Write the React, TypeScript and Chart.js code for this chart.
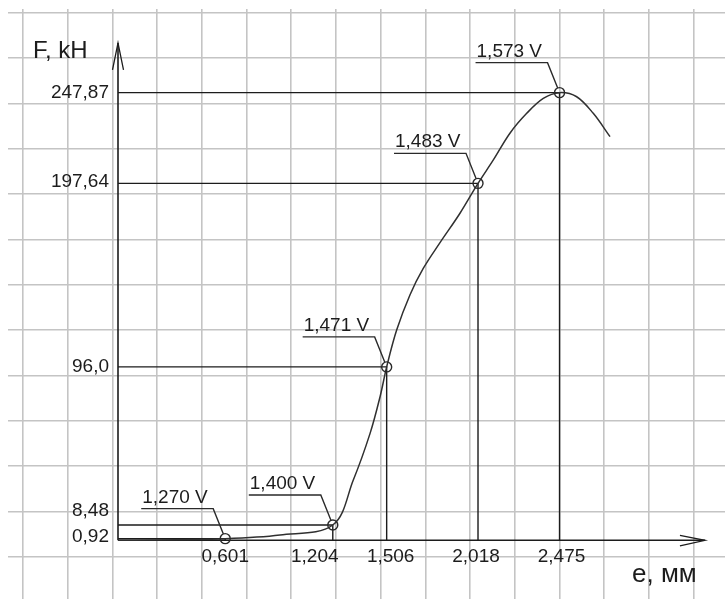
import React, { useEffect, useRef } from 'react';
import { Chart, registerables } from 'chart.js';

Chart.register(...registerables);

// ---- key measured points ----
const strainMm = [0.601, 1.204, 1.506, 2.018, 2.475];
const forceKn = [0.92, 8.48, 96.0, 197.64, 247.87];
const voltageV = [1.27, 1.4, 1.471, 1.483, 1.573];

// ---- tick labels ----
const xTickLabels = ['0,601', '1,204', '1,506', '2,018', '2,475'];
const yTickLabels = ['0,92', '8,48', '96,0', '197,64', '247,87'];

// ---- traced curve F(e) ----
const curveE = [0, 0.601, 0.908, 1.204, 1.319, 1.413, 1.469, 1.506, 1.562, 1.637, 1.711, 1.805, 1.917, 2.018, 2.104, 2.197, 2.291, 2.384, 2.475, 2.571, 2.664, 2.758];
const curveF = [0, 0.92, 2.9, 8.48, 33.4, 59.2, 79.5, 96.0, 116.4, 136.0, 150.5, 164.8, 181.1, 197.64, 210.6, 225.4, 236.4, 244.7, 247.87, 245.6, 236.4, 223.5];

// ---- axis extents (arrow tips) ----
const AXIS_E_END = 3.29;
const AXIS_F_END = 275.4;

// ---- view window ----
const E_MIN = -0.6166;
const E_MAX = 3.4025;
const F_MIN = -32.5;
const F_MAX = 294.18;

// ---- paper grid (background squares) ----
const GRID_E_START = -0.5325;
const GRID_E_STEP = 0.2506;
const GRID_E_COUNT = 16;
const GRID_F_START = 291.97;
const GRID_F_STEP = 25.083;
const GRID_F_COUNT = 13;
const gridE: number[] = [];
for (let k = 0; k < GRID_E_COUNT; k++) gridE.push(GRID_E_START + GRID_E_STEP * k);
const gridF: number[] = [];
for (let k = 0; k < GRID_F_COUNT; k++) gridF.push(GRID_F_START - GRID_F_STEP * k);

// ---- label styling nudges (px) ----
const xLabelNudge = [0, -18, 4, -2, 2];
const yLabelNudge = [3.5, -9, 5, 4, 5];

const INK = '#1c1c1c';
const FONT = '"Liberation Sans", Arial, sans-serif';

const fmt = (v: number) => v.toFixed(3).replace('.', ',') + ' V';

const decor = {
  id: 'decor',
  beforeDatasetsDraw(chart: any) {
    const sx = chart.scales.x;
    const sy = chart.scales.y;
    const ctx = chart.ctx as CanvasRenderingContext2D;
    const x0 = sx.getPixelForValue(0);
    const y0 = sy.getPixelForValue(0);
    const xt = sx.getPixelForValue(AXIS_E_END);
    const yt = sy.getPixelForValue(AXIS_F_END);
    ctx.save();
    ctx.strokeStyle = INK;
    ctx.lineWidth = 1.6;
    ctx.beginPath();
    ctx.moveTo(x0, y0);
    ctx.lineTo(xt, y0);
    ctx.moveTo(x0, y0);
    ctx.lineTo(x0, yt);
    ctx.stroke();
    ctx.lineWidth = 1.3;
    ctx.beginPath();
    ctx.moveTo(xt - 25, y0 - 5);
    ctx.lineTo(xt, y0);
    ctx.lineTo(xt - 25, y0 + 5.5);
    ctx.moveTo(x0 - 5.5, yt + 27);
    ctx.lineTo(x0, yt);
    ctx.lineTo(x0 + 5.5, yt + 27);
    ctx.stroke();
    ctx.restore();
  },
  afterDatasetsDraw(chart: any) {
    const sx = chart.scales.x;
    const sy = chart.scales.y;
    const ctx = chart.ctx as CanvasRenderingContext2D;
    const x0 = sx.getPixelForValue(0);
    const y0 = sy.getPixelForValue(0);
    ctx.save();
    ctx.fillStyle = INK;
    ctx.font = `19px ${FONT}`;
    // x tick labels
    ctx.textAlign = 'center';
    ctx.textBaseline = 'alphabetic';
    strainMm.forEach((e, i) => {
      ctx.fillText(xTickLabels[i], sx.getPixelForValue(e) + xLabelNudge[i], y0 + 22);
    });
    // y tick labels
    ctx.textAlign = 'right';
    forceKn.forEach((f, i) => {
      ctx.fillText(yTickLabels[i], x0 - 9, sy.getPixelForValue(f) + yLabelNudge[i]);
    });
    // callouts
    ctx.textAlign = 'left';
    ctx.strokeStyle = '#2a2a2a';
    ctx.lineWidth = 1.4;
    strainMm.forEach((e, i) => {
      const px = sx.getPixelForValue(e);
      const py = sy.getPixelForValue(forceKn[i]);
      const ux = px - 12;
      const uy = py - 30;
      const dx = px - ux;
      const dy = py - uy;
      const len = Math.hypot(dx, dy);
      const ex = px - (dx / len) * 5;
      const ey = py - (dy / len) * 5;
      ctx.beginPath();
      ctx.moveTo(ux - 72, uy);
      ctx.lineTo(ux, uy);
      ctx.lineTo(ex, ey);
      ctx.stroke();
      ctx.fillText(fmt(voltageV[i]), ux - 71, uy - 6);
    });
    // axis titles
    ctx.font = `24px ${FONT}`;
    ctx.fillText('F, kH', x0 - 85, 58);
    ctx.font = `26px ${FONT}`;
    ctx.fillText('e, мм', 632, 582);
    ctx.restore();
  },
};

export default function App() {
  const ref = useRef<HTMLCanvasElement>(null);
  useEffect(() => {
    const canvas = ref.current!;
    const guides = strainMm.map((e, i) => ({
      type: 'line' as const,
      data: [
        { x: 0, y: forceKn[i] },
        { x: e, y: forceKn[i] },
        { x: e, y: 0 },
      ],
      borderColor: INK,
      borderWidth: 1.4,
      pointRadius: 0,
      tension: 0,
      fill: false,
    }));
    const chart = new Chart(canvas, {
      type: 'line',
      data: {
        datasets: [
          {
            type: 'scatter',
            data: strainMm.map((e, i) => ({ x: e, y: forceKn[i] })),
            pointStyle: 'circle',
            pointRadius: 5,
            pointBorderWidth: 1.4,
            pointBorderColor: '#2a2a2a',
            pointBackgroundColor: 'rgba(0,0,0,0)',
            showLine: false,
          } as any,
          {
            type: 'line',
            data: curveE.map((e, i) => ({ x: e, y: curveF[i] })),
            borderColor: '#303030',
            borderWidth: 1.5,
            pointRadius: 0,
            tension: 0.35,
            fill: false,
          } as any,
          ...(guides as any[]),
        ],
      },
      options: {
        responsive: false,
        maintainAspectRatio: false,
        animation: false,
        devicePixelRatio: 1,
        events: [],
        layout: { autoPadding: false, padding: { left: 8, top: 9, right: 0, bottom: 0 } },
        plugins: { legend: { display: false }, tooltip: { enabled: false } },
        scales: {
          x: {
            type: 'linear',
            bounds: 'data',
            min: E_MIN,
            max: E_MAX,
            afterBuildTicks: (s: any) => {
              s.ticks = gridE.map((v) => ({ value: v }));
            },
            ticks: { display: false },
            grid: { color: '#c4c4c4', lineWidth: 1.6, drawTicks: false },
            border: { display: false },
          },
          y: {
            type: 'linear',
            bounds: 'data',
            min: F_MIN,
            max: F_MAX,
            afterBuildTicks: (s: any) => {
              s.ticks = gridF.map((v) => ({ value: v }));
            },
            ticks: { display: false },
            grid: { color: '#c4c4c4', lineWidth: 1.6, drawTicks: false },
            border: { display: false },
          },
        },
      } as any,
      plugins: [decor],
    });
    return () => chart.destroy();
  }, []);
  return (
    <div style={{ position: 'absolute', left: 0, top: 0, width: 725, height: 599, background: '#fff' }}>
      <canvas ref={ref} width={725} height={599} style={{ display: 'block' }} />
    </div>
  );
}
